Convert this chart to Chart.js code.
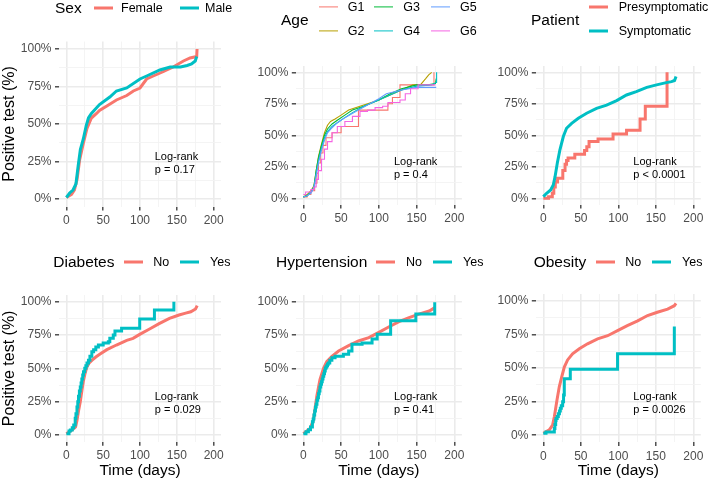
<!DOCTYPE html>
<html>
<head>
<meta charset="utf-8">
<script src="https://cdn.jsdelivr.net/npm/chart.js@4.4.1/dist/chart.umd.min.js"></script>
<style>
body { margin: 0; background: #fff; width: 708px; height: 481px; position: relative; overflow: hidden; font-family: "Liberation Sans", Arial, sans-serif; }
canvas { position: absolute; }
.lg { position: absolute; white-space: nowrap; transform: translateY(-50%); line-height: 1; color: #000; }
.key { position: absolute; transform: translateY(-50%); }
</style>
</head>
<body>
<canvas id="c1" width="236" height="240" style="left:0;top:0"></canvas>
<canvas id="c2" width="236" height="240" style="left:236px;top:0"></canvas>
<canvas id="c3" width="236" height="240" style="left:472px;top:0"></canvas>
<canvas id="c4" width="236" height="241" style="left:0;top:240px"></canvas>
<canvas id="c5" width="236" height="241" style="left:236px;top:240px"></canvas>
<canvas id="c6" width="236" height="241" style="left:472px;top:240px"></canvas>
<script>
// axis ticks (major + minor grid)
const xTicks = [0, 25, 50, 75, 100, 125, 150, 175, 200];
const xMajor = [0, 50, 100, 150, 200];
const yTicks = [0, 12.5, 25, 37.5, 50, 62.5, 75, 87.5, 100];
const yMajor = [0, 25, 50, 75, 100];

// [day, % positive]
const sexFemale = [[0,1],[7,3],[11,6],[14.5,13],[18,26],[23,37],[28,47],[34,54],[41,57],[45,59],[55,62],[68,66],[82,69],[91,72],[100,74],[109,80],[118,82],[132,85],[145,88],[159,92],[168,94],[177,95],[177.5,100]];
const sexMale = [[0,1],[4.5,4],[9,6],[13,10],[16,22],[19,33],[23,40],[27,49],[30,54],[34,57],[45,63],[59,68],[68,72],[82,74],[100,80],[109,82],[127,86],[141,88],[155,88],[164,89],[170,90],[175,92],[177,95]];

const ageG1 = [[0,1],[5,3],[10,6],[15,12],[18,20],[20,28],[23,36],[26,42],[30,48],[38,52],[50,57],[73,70],[112,75],[118,80],[128,90],[173,100]];
const ageG2 = [[0,1],[5,3],[10,6],[14,10],[17,22],[20,33],[24,43],[28,52],[32,58],[36,61],[42,63],[50,66],[60,70],[70,72],[85,75],[100,78],[115,82],[130,86],[145,90],[155,90],[162,95],[166,98],[170,100]];
const ageG3 = [[0,1],[5,2],[10,5],[14,9],[17,22],[20,32],[24,42],[28,50],[32,55],[38,59],[45,62],[55,66],[65,70],[80,73],[100,78],[115,83],[130,87],[150,90],[165,90],[175,91],[176,95]];
const ageG4 = [[0,1],[5,2],[10,5],[14,9],[17,20],[20,30],[24,40],[28,48],[32,53],[38,57],[45,60],[55,64],[65,68],[80,73],[100,78],[115,82],[130,86],[150,89],[170,90],[176,92],[176.5,100]];
const ageG5 = [[0,1],[5,2],[10,4],[14,8],[17,18],[20,28],[24,38],[28,46],[32,52],[38,56],[45,60],[55,64],[70,69],[85,74],[100,79],[110,83],[130,86],[150,88],[176,88]];
const ageG6 = [[0,3],[3,5],[10,7],[14,9],[17,15],[20,22],[24,31],[28,39],[32,45],[38,52],[45,57],[55,61],[65,65],[75,69],[85,70],[95,72],[105,73],[112,76],[128,78],[135,83],[142,87],[152,90],[175,90]];

const patPre = [[0,0],[7,1.3],[12,4],[14,9],[16,13],[19,16],[26,22],[29,27],[31,30],[33,32],[42,35],[55,38],[58,41],[61,45],[73,47],[93,51],[111,54],[129,63],[136,73],[165,100]];
const patSym = [[0,1.3],[4.4,4],[9.8,6.6],[13.3,10.6],[15.6,17],[18.7,28],[22,38],[26.7,49],[31,55.6],[37.8,59.5],[46.7,63.5],[57.8,67.5],[71,71.4],[84.4,74],[97.8,77.5],[111,82],[124,84.7],[138,88],[151,90],[164,91.8],[171,92.6],[175,93.5],[177,96.6]];

const diabNo = [[0,1],[8,4],[12.5,6],[14.4,11],[16.5,18],[18.9,25],[21,33],[23.3,41],[25.5,46.5],[27.8,51],[31,54],[34.6,56],[40,58.5],[45.8,60.7],[55,64],[68,67.5],[82,71],[90.6,72.5],[99.6,75.5],[113,79.5],[126,83.5],[140,87.5],[153,90],[162,91.4],[169,92.4],[175.4,94.5],[177.7,97]];
const diabYes = [[0,1],[3.6,3],[5.4,3.7],[8,5.5],[10,7.5],[12,12.5],[13,16],[14.4,21],[15.5,25],[16.5,29],[17.7,33],[18.9,36],[20,39],[21,42],[22.2,45],[23.3,47.5],[25,50],[26.5,52],[28,54],[30,56],[32,59],[34.6,62.5],[37,64],[40,66],[43.5,67.5],[50,69],[57,70],[59,72.5],[63.7,75],[66,78],[75,80],[99.6,87],[119.6,93.7],[146,100]];

const hypNo = [[0,1],[8.9,5],[13.3,11],[17.8,29],[22,41.5],[26.7,50],[31,55],[37.8,59],[46.7,63],[60,67],[73,70.5],[86.7,73],[100,77],[113,81],[126.7,85],[140,88],[153,90.7],[166.7,93],[174.7,95.7]];
const hypYes = [[0,1],[3.5,2.5],[6.7,4],[9.5,6],[12,10],[13,12],[14,15],[15,18],[16,21],[17,23],[18,26],[19,28],[20,31],[21,33],[22,36],[23,38],[24,40],[25,42],[26,44],[27,46],[28,48],[29,50],[30,51],[31,52],[32,53],[33,54],[35,56],[37.8,58],[42,59],[53,60.5],[60,63],[64.4,68],[77.8,69],[91,72],[97.8,75.6],[115.6,85.6],[149,90.7],[174,99.5]];

const obNo = [[0,1.5],[8,4],[12.4,7.6],[14.7,13.8],[18.2,26],[21.3,36],[24.4,43],[28,50.7],[32.4,56],[39,60.6],[48,64.3],[59,68],[72.4,71.7],[85.8,74],[99,77.8],[112,81.5],[125.8,85],[139,89],[152,91.4],[165.8,93.8],[174.7,96.3],[177,98]];
const obYes = [[0,1.5],[3.6,2.5],[14.7,5],[15.5,8],[16.5,11],[17,12.5],[18.5,14],[20,16],[21.5,18],[22.7,20],[24,22],[25.8,25],[27,30],[28,42],[36,49],[99,60.6],[174.7,80.8]];

const RED = '#F8766D', TEAL = '#00BFC4';
const AGE_COLORS = ['#F8766D', '#B79F00', '#00BA38', '#00BFC4', '#619CFF', '#F564E3'];
const FONT = "'Liberation Sans', Arial, sans-serif";

const logrank = {
  id: 'logrank',
  afterDatasetsDraw(chart, args, opts) {
    const { ctx, scales: { x, y } } = chart;
    const px = x.getPixelForValue(120), py = y.getPixelForValue(24);
    ctx.save();
    ctx.font = '11px ' + FONT;
    ctx.fillStyle = '#000';
    ctx.textBaseline = 'middle';
    ctx.fillText('Log-rank', px, py - 6.5);
    ctx.fillText(opts.p, px, py + 6.5);
    ctx.restore();
  }
};

function ds(pts, color, width, stepped, order) {
  return {
    data: pts.map(p => ({ x: p[0], y: p[1] })),
    borderColor: color, borderWidth: width, pointRadius: 0,
    stepped: stepped, tension: 0, fill: false, order: order
  };
}

function makeChart(id, datasets, p, pad, yW, xH, yTitle, xTitle) {
  const isMajX = c => xMajor.includes(c.tick.value);
  const isMajY = c => yMajor.includes(c.tick.value);
  return new Chart(document.getElementById(id), {
    type: 'line',
    data: { datasets },
    plugins: [logrank],
    options: {
      responsive: false, animation: false, devicePixelRatio: 1, events: [],
      layout: { padding: pad },
      plugins: { legend: { display: false }, tooltip: { enabled: false }, logrank: { p } },
      scales: {
        x: {
          type: 'linear', min: -10, max: 210,
          afterBuildTicks: s => { s.ticks = xTicks.map(v => ({ value: v })); },
          afterFit: s => { s.height = xH; s.paddingLeft = 0; s.paddingRight = 0; },
          ticks: { autoSkip: false, maxRotation: 0, padding: 3, color: '#4D4D4D', font: { family: FONT, size: 12 },
                   callback: v => xMajor.includes(v) ? String(v) : '' },
          grid: { color: c => isMajX(c) ? '#EBEBEB' : '#F3F3F3', lineWidth: c => isMajX(c) ? 1.6 : 0.9,
                  tickLength: 4, tickWidth: 1.3, tickColor: c => isMajX(c) ? '#333333' : 'rgba(0,0,0,0)' },
          border: { display: false },
          title: { display: !!xTitle, text: xTitle || '', color: '#000', font: { family: FONT, size: 15.5 }, padding: { top: 0, bottom: 0 } }
        },
        y: {
          type: 'linear', min: -5, max: 105,
          afterBuildTicks: s => { s.ticks = yTicks.map(v => ({ value: v })); },
          afterFit: s => { s.width = yW; s.paddingTop = 0; s.paddingBottom = 0; },
          ticks: { autoSkip: false, padding: 3.5, color: '#4D4D4D', font: { family: FONT, size: 12 },
                   callback: v => yMajor.includes(v) ? v + '%' : '' },
          grid: { color: c => isMajY(c) ? '#EBEBEB' : '#F3F3F3', lineWidth: c => isMajY(c) ? 1.6 : 0.9,
                  tickLength: 4, tickWidth: 1.3, tickColor: c => isMajY(c) ? '#333333' : 'rgba(0,0,0,0)' },
          border: { display: false },
          title: { display: !!yTitle, text: yTitle || '', color: '#000', font: { family: FONT, size: 16 }, padding: { top: 0, bottom: 0 } }
        }
      }
    }
  });
}

makeChart('c1', [ds(sexFemale, RED, 3, false, 2), ds(sexMale, TEAL, 3, false, 1)], 'p = 0.17',
  { left: 0, right: 15, top: 41.5, bottom: 13.5 }, 59, 20, 'Positive test (%)', null);
makeChart('c2', [
  ds(ageG1, AGE_COLORS[0], 1.1, true, 6), ds(ageG2, AGE_COLORS[1], 1.1, false, 5),
  ds(ageG3, AGE_COLORS[2], 1.1, false, 4), ds(ageG4, AGE_COLORS[3], 1.1, false, 3),
  ds(ageG5, AGE_COLORS[4], 1.1, false, 2), ds(ageG6, AGE_COLORS[5], 1.1, true, 1)], 'p = 0.4',
  { left: 21.8, right: 10.1, top: 66, bottom: 15.4 }, 38, 20, null, null);
makeChart('c3', [ds(patPre, RED, 3, true, 2), ds(patSym, TEAL, 3, false, 1)], 'p < 0.0001',
  { left: 25.8, right: 7.2, top: 66, bottom: 15.4 }, 38, 20, null, null);
makeChart('c4', [ds(diabNo, RED, 3, false, 2), ds(diabYes, TEAL, 3, true, 1)], 'p = 0.029',
  { left: 0, right: 15, top: 55, bottom: 1.2 }, 59, 38.1, 'Positive test (%)', 'Time (days)');
makeChart('c5', [ds(hypNo, RED, 3, false, 2), ds(hypYes, TEAL, 3, true, 1)], 'p = 0.41',
  { left: 21.8, right: 10.1, top: 55, bottom: 1.2 }, 38, 38.1, null, 'Time (days)');
makeChart('c6', [ds(obNo, RED, 3, false, 2), ds(obYes, TEAL, 3, true, 1)], 'p = 0.0026',
  { left: 25.8, right: 7.2, top: 54, bottom: 0.9 }, 38, 38.1, null, 'Time (days)');

// ggplot-style legends above each panel
function txt(x, cy, s, size) {
  const d = document.createElement('div');
  d.className = 'lg'; d.textContent = s;
  d.style.left = x + 'px'; d.style.top = cy + 'px'; d.style.fontSize = size + 'px';
  document.body.appendChild(d);
}
function key(x1, x2, cy, color, th) {
  const d = document.createElement('div');
  d.className = 'key';
  d.style.left = x1 + 'px'; d.style.top = cy + 'px';
  d.style.width = (x2 - x1) + 'px'; d.style.height = th + 'px'; d.style.background = color;
  document.body.appendChild(d);
}
txt(55, 7.5, 'Sex', 15.5);
key(94, 113, 7.5, RED, 3); txt(121, 7.5, 'Female', 12.5);
key(180, 199, 7.5, TEAL, 3); txt(205, 7.5, 'Male', 12.5);

txt(281, 19.5, 'Age', 15.5);
const ageNames = ['G1', 'G2', 'G3', 'G4', 'G5', 'G6'];
const ageCols = [318.7, 374.3, 431];
ageNames.forEach((n, i) => {
  const cx = ageCols[Math.floor(i / 2)], cy = i % 2 === 0 ? 6.5 : 31;
  key(cx, cx + 19, cy, AGE_COLORS[i], 1.2); txt(cx + 29, cy, n, 12.5);
});

txt(531, 19.5, 'Patient', 15.5);
key(588.7, 608, 6.5, RED, 3); txt(618.7, 6.5, 'Presymptomatic', 12.5);
key(588.7, 608, 31, TEAL, 3); txt(618.7, 31, 'Symptomatic', 12.5);

txt(53.3, 261.7, 'Diabetes', 15.5);
key(124, 143.3, 261.7, RED, 3); txt(153.3, 261.7, 'No', 12.5);
key(180, 199.3, 261.7, TEAL, 3); txt(210, 261.7, 'Yes', 12.5);

txt(276, 261.7, 'Hypertension', 15.5);
key(376, 395, 261.7, RED, 3); txt(406, 261.7, 'No', 12.5);
key(432.7, 452, 261.7, TEAL, 3); txt(463, 261.7, 'Yes', 12.5);

txt(533.7, 261.7, 'Obesity', 15.5);
key(596, 615, 261.7, RED, 3); txt(625.3, 261.7, 'No', 12.5);
key(652, 671, 261.7, TEAL, 3); txt(682, 261.7, 'Yes', 12.5);
</script>
</body>
</html>
